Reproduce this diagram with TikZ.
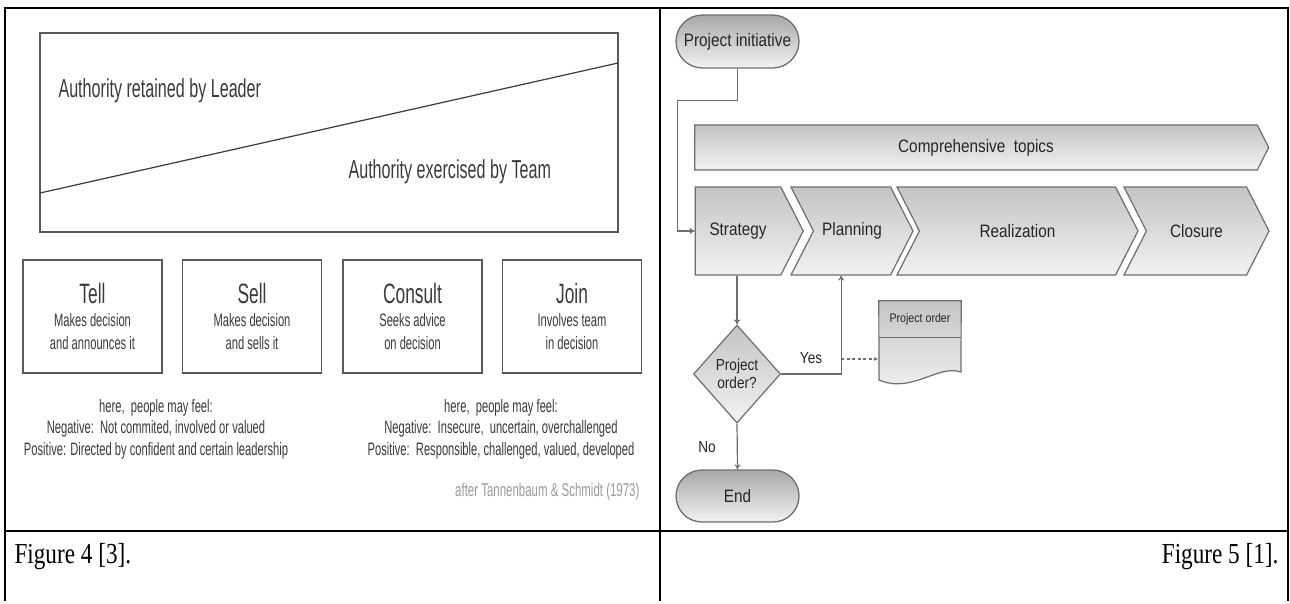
\documentclass[tikz,border=0pt]{standalone}
\usepackage{fontspec}
\setmainfont{Liberation Serif}
\newfontfamily\narrowfont[FakeStretch=0.62]{Liberation Sans}
\newfontfamily\flowfont[FakeStretch=0.85]{Liberation Sans}
\newfontfamily\capfont[FakeStretch=0.8]{Liberation Serif}
\usetikzlibrary{arrows.meta,shapes.geometric,shapes.symbols,shapes.misc}

\definecolor{inkgray}{HTML}{3A3A3A}
\definecolor{framegray}{HTML}{5A5A5A}
\definecolor{flowline}{HTML}{6E6E6E}
\definecolor{shadedark}{HTML}{C4C4C4}
\definecolor{shadelight}{HTML}{F2F2F2}
\definecolor{termdark}{HTML}{A8A8A8}

\tikzset{
  leadbox/.style={draw=framegray, line width=1.2pt, minimum width=139, minimum height=113,
    inner sep=0, align=center, text=inkgray, font=\narrowfont\fontsize{18}{23}\selectfont},
  feel/.style={align=center, text=inkgray, font=\narrowfont\fontsize{18}{21.5}\selectfont},
  phase/.style={shape=signal, signal to=east, signal pointer angle=126, draw=flowline,
    line width=1.2pt, top color=shadedark, bottom color=shadelight, minimum height=88,
    inner sep=0, text=black!85, font=\flowfont\fontsize{18}{20}\selectfont},
  terminal/.style={rounded rectangle, draw=flowline, line width=1.3pt, top color=termdark,
    bottom color=shadelight, minimum width=123, minimum height=53, inner sep=0,
    text=black!85, font=\flowfont\fontsize{18}{20}\selectfont},
  flow/.style={draw=flowline, line width=1.2pt},
  flowlabel/.style={text=black!85, font=\flowfont\fontsize{16}{18}\selectfont},
  caption/.style={font=\capfont\fontsize{29}{31}\selectfont},
}

\begin{document}
\begin{tikzpicture}[x=1pt, y=-1pt, >={To[length=5pt,width=6pt]}]
\useasboundingbox (0,0) rectangle (1290,603);

% table
\draw[line width=1.2pt] (4,8) -- (1289,8);
\draw[line width=2pt] (4.5,8) -- (4.5,601);
\draw[line width=2pt] (660,8) -- (660,601);
\draw[line width=2pt] (1288,8) -- (1288,601);
\draw[line width=2pt] (4,531) -- (1289,531);

% Figure 4
\draw[framegray, line width=1.2pt] (40,33) rectangle (618,232);
\draw[inkgray, line width=1.2pt] (40,193) -- (618,63);
\node[anchor=west, text=inkgray, font=\narrowfont\fontsize{26}{28}\selectfont] (leader) at (55,91) {Authority retained by Leader};
\node[anchor=west, text=inkgray, font=\narrowfont\fontsize{26}{28}\selectfont] (team) at (345,172) {Authority exercised by Team};

\foreach \nm/\cx/\ttl/\la/\lb in {tell/92.5/Tell/Makes decision/and announces it,
    sell/252/Sell/Makes decision/and sells it,
    consult/412.5/Consult/Seeks advice/on decision,
    join/572/Join/Involves team/in decision}
{
  \node[leadbox] (\nm) at (\cx,316.5) {{\fontsize{28}{28}\selectfont\ttl}\\ \la\\ \lb};
}

\node[feel] (feelA) at (156,429) {here,\ \ people may feel:\\Negative:\ \ Not commited, involved or valued\\Positive: Directed by confident and certain leadership};
\node[feel] (feelB) at (501,429) {here,\ \ people may feel:\\Negative:\ \ Insecure,\ \ uncertain, overchallenged\\Positive:\ \ Responsible, challenged, valued, developed};
\node[anchor=east, text=black!40, font=\narrowfont\fontsize{18.5}{20}\selectfont] (source) at (643,492) {after Tannenbaum \& Schmidt (1973)};

% Figure 5
\node[terminal] (init) at (737.5,41.5) {Project initiative};
\node[phase, minimum width=574, minimum height=45] (topics) at (976,147.5) {Comprehensive\ \ topics};

\node[phase, minimum width=108] (strategy) at (738,231) {Strategy};
\node[phase, signal from=west, minimum width=122] (planning) at (852,231) {Planning};
\node[phase, signal from=west, minimum width=241] (realization) at (1017.5,231) {Realization};
\node[phase, signal from=west, minimum width=145] (closure) at (1196.5,231) {Closure};

\node[diamond, draw=flowline, line width=1.2pt, top color=shadedark, bottom color=shadelight,
  minimum width=87, minimum height=98, inner sep=0, align=center, text=black!85,
  font=\flowfont\fontsize{16}{18}\selectfont] (query) at (737,374) {Project\\order?};
\node[terminal, minimum height=52] (finish) at (737.5,496) {End};

\node[inner sep=0, minimum width=82, minimum height=36] (order) at (920,319) {};
\draw[flow, top color=shadedark, bottom color=shadelight] (order.north west) -- (order.north east)
  -- (961,372) .. controls (938,364) and (912,394) .. (879,380) -- cycle;
\draw[flow] (order.south west) -- (order.south east);
\node[text=black!85, font=\flowfont\fontsize{12.5}{14}\selectfont] (ordertext) at (order) {Project order};

\node[flowlabel] (yes) at (811,358) {Yes};
\node[flowlabel] (no) at (707,447) {No};

\draw[flow,->] (init.south) -- ++(0,32) -| ([xshift=-17pt]strategy.west) -- (strategy.west);
\draw[flow,->] (query.north |- strategy.south) -- (query.north);
\draw[flow,->] (query.east) -- ++(60,0) coordinate (yesbend) -- (yesbend |- planning.south);
\coordinate (dashfrom) at ([yshift=15pt]yesbend);
\draw[flow, dash pattern=on 3pt off 2.5pt, -{Latex[length=5pt,width=4pt]}] (dashfrom) -- (dashfrom -| order.west);
\draw[flow,->] (query.south) -- (finish.north);

% captions
\node[anchor=base west, caption] (capA) at (11,563) {Figure 4 [3].};
\node[anchor=base east, caption] (capB) at (1282,563) {Figure 5 [1].};

\end{tikzpicture}
\end{document}
